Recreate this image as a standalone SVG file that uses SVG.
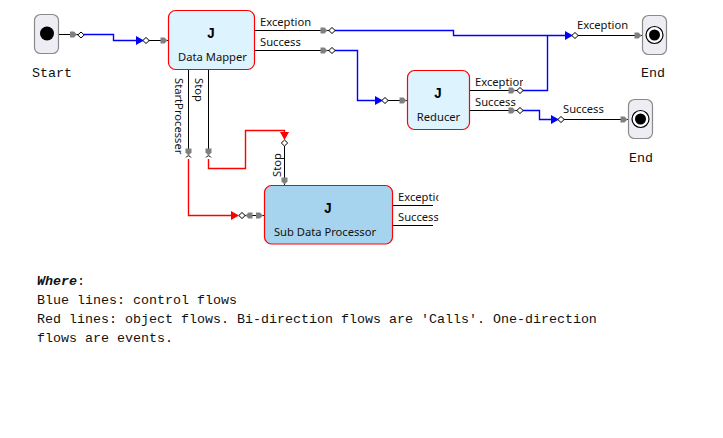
<svg xmlns="http://www.w3.org/2000/svg" xmlns:xlink="http://www.w3.org/1999/xlink" width="723" height="438" viewBox="0 0 723 438">
<style>
text{font-family:"Noto Sans","DejaVu Sans",sans-serif;font-size:11.2px;fill:#111}
.m{font-family:"Liberation Mono",monospace;font-size:13.33px;fill:#111}
.w{font-family:"Liberation Mono",monospace;font-size:13.33px;font-weight:bold;font-style:italic}
.j{font-family:"Liberation Mono",monospace;font-size:14px;font-weight:bold;text-anchor:middle;fill:#000}
.c{text-anchor:middle}
.job{fill:#ddf3fd;stroke:#f00;stroke-width:1.2}
.sub{fill:#a6d4ee;stroke:#f00;stroke-width:1.2}
.term{fill:#ededf3;stroke:#8a8a8a;stroke-width:1.2}
.k,.b,.r{fill:none}
.k{stroke:#000;stroke-width:1;shape-rendering:crispEdges}
.b{stroke:#00f;stroke-width:1.4}.r{stroke:#f00;stroke-width:1.4}
.ga{fill:#808080}.ba{fill:#00f}.ra{fill:#f00}
.d{fill:#fff;stroke:#000;stroke-width:1}
</style>
<defs>
<path id="a" d="M-5.500,-3 L-1.500,-3 L1.500,0 L-1.500,3 L-5.500,3Z"/>
<path id="t" d="M-7,-4.500 L1,0 L-7,4.500Z"/>
<path id="di" d="M-3.200,0 L0,-3 L3.200,0 L0,3Z"/>
<clipPath id="c1"><rect x="470" y="70" width="53" height="45"/></clipPath>
<clipPath id="c2"><rect x="393" y="185" width="45.500" height="45"/></clipPath>
</defs>
<g id="connectors">
<path class="k" d="M58,34.500H78M143,40.500H168M255,30.500H329M255,50.500H329M388,100.500H407M470,90.500H517M470,110.500H517M578,35.500H642M564,119.500H628M188.500,69V152M208.500,69V152M284.500,146V185M245,215.500H264.500M393,205.500H433M393,225.500H433"/>
<path class="b" d="M84,34.500H113.500V40.500H137M335,30.500H453.500V35.500H566M335,50.500H357.500V100.500H376M523,90.500H547.500V35.500M523,110.500H539.500V119.500H552"/>
<path class="r" d="M188.500,159V215.500H233M208.500,159V168.500H245.500V130.500H284.500V134"/>
<path d="M186,157.500Q188.500,154 191,157.500M206,157.500Q208.500,154 211,157.500" fill="none" stroke="#000"/>
<g class="ga">
<use xlink:href="#a" x="75.500" y="34.500"/><use xlink:href="#a" x="166" y="40.500"/><use xlink:href="#a" x="326" y="30.500"/><use xlink:href="#a" x="326" y="50.500"/><use xlink:href="#a" x="405" y="100.500"/><use xlink:href="#a" x="514" y="90.500"/><use xlink:href="#a" x="514" y="110.500"/><use xlink:href="#a" x="640" y="35.500"/><use xlink:href="#a" x="626" y="119.500"/><use xlink:href="#a" x="261.500" y="215.500"/>
<use xlink:href="#a" transform="translate(247,215.500) rotate(180)"/>
<use xlink:href="#a" transform="translate(188.500,154) rotate(90)"/><use xlink:href="#a" transform="translate(208.500,154) rotate(90)"/><use xlink:href="#a" transform="translate(284.500,183) rotate(90)"/>
</g>
<g class="ba"><use xlink:href="#t" x="143" y="40.500"/><use xlink:href="#t" x="382" y="100.500"/><use xlink:href="#t" x="572" y="35.500"/><use xlink:href="#t" x="558" y="119.500"/></g>
<g class="ra"><use xlink:href="#t" x="238" y="215.500"/><use xlink:href="#t" transform="translate(284.500,139) rotate(90)"/></g>
<g class="d"><use xlink:href="#di" x="81" y="35"/><use xlink:href="#di" x="146" y="40.500"/><use xlink:href="#di" x="332" y="30.500"/><use xlink:href="#di" x="332" y="50.500"/><use xlink:href="#di" x="385" y="100.500"/><use xlink:href="#di" x="520" y="90.500"/><use xlink:href="#di" x="520" y="110.500"/><use xlink:href="#di" x="575" y="35.500"/><use xlink:href="#di" x="561" y="119.500"/><use xlink:href="#di" x="242" y="215.500"/><use xlink:href="#di" x="284.500" y="143"/></g>
<text x="260" y="26">Exception</text>
<text x="260" y="46">Success</text>
<text x="475" y="86" clip-path="url(#c1)">Exception</text>
<text x="475" y="106" clip-path="url(#c1)">Success</text>
<text x="577" y="29">Exception</text>
<text x="563" y="113">Success</text>
<text x="398" y="201" clip-path="url(#c2)">Exception</text>
<text x="398" y="221" clip-path="url(#c2)">Success</text>
<text transform="translate(175,78) rotate(90)">StartProcesser</text>
<text transform="translate(195,78) rotate(90)">Stop</text>
<text transform="translate(281,177) rotate(-90)">Stop</text>
</g>
<g id="start"><rect class="term" x="34.500" y="14.500" width="24" height="39" rx="6"/><circle cx="47" cy="33.500" r="7" fill="#000"/><text class="m c" x="52" y="77">Start</text></g>
<g id="data-mapper"><rect class="job" x="168.500" y="10.500" width="86" height="59" rx="7"/><text class="j" x="211" y="38">J</text><text class="c" x="212.500" y="61">Data Mapper</text></g>
<g id="reducer"><rect class="job" x="407.500" y="70.500" width="62" height="59" rx="7"/><text class="j" x="438" y="98">J</text><text class="c" x="438.500" y="121">Reducer</text></g>
<g id="sub-data-processor"><rect class="sub" x="264.500" y="185.500" width="128" height="58.500" rx="7"/><text class="j" x="328" y="213">J</text><text class="c" x="325" y="236">Sub Data Processor</text></g>
<g id="end-exception"><rect class="term" x="642.500" y="15.500" width="24" height="39" rx="6"/><circle cx="654.500" cy="35" r="8.500" fill="#fff" stroke="#000" stroke-width="1.200"/><circle cx="654.500" cy="35" r="5.500" fill="#000"/><text class="m c" x="653" y="77">End</text></g>
<g id="end-success"><rect class="term" x="628.500" y="99.500" width="24" height="39" rx="6"/><circle cx="640.500" cy="119" r="8.500" fill="#fff" stroke="#000" stroke-width="1.200"/><circle cx="640.500" cy="119" r="5.500" fill="#000"/><text class="m c" x="641" y="162">End</text></g>
<g id="notes">
<text class="m" x="37" y="285"><tspan class="w">Where</tspan>:</text>
<text class="m" x="37" y="304">Blue lines: control flows</text>
<text class="m" x="37" y="323">Red lines: object flows. Bi-direction flows are 'Calls'. One-direction</text>
<text class="m" x="37" y="342">flows are events.</text>
</g>
</svg>
